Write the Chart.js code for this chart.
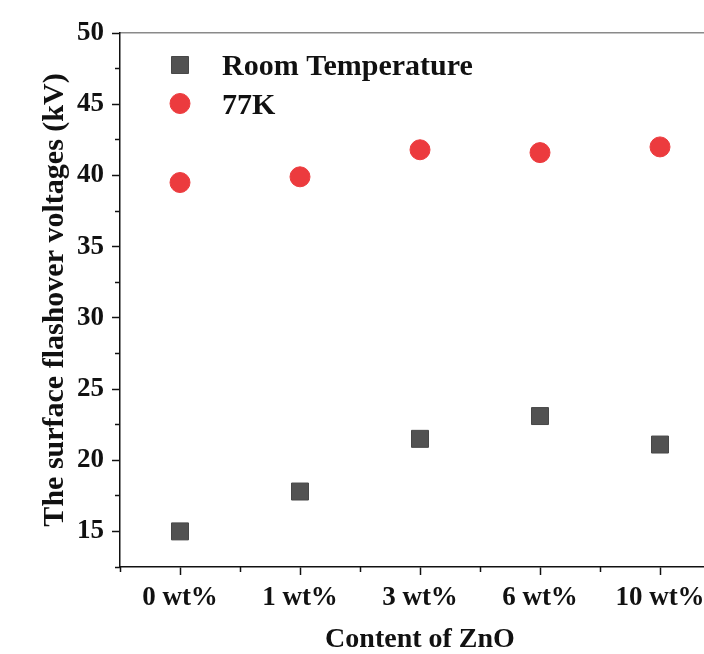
<!DOCTYPE html>
<html>
<head>
<meta charset="utf-8">
<script src="https://cdn.jsdelivr.net/npm/chart.js@4/dist/chart.umd.min.js"></script>
<style>
  html, body { margin: 0; padding: 0; background: #fff; overflow: hidden; }
  #wrap { width: 704px; height: 654px; overflow: hidden; }
</style>
</head>
<body>
<div id="wrap"><canvas id="c" width="760" height="654"></canvas></div>
<script>
"use strict";

const categories = ["0 wt%", "1 wt%", "3 wt%", "6 wt%", "10 wt%"];
const roomTemp = [15.0, 17.8, 21.5, 23.1, 21.1];
const k77 = [39.5, 39.9, 41.8, 41.6, 42.0];
const yMajor = [15, 20, 25, 30, 35, 40, 45, 50];
const yMinor = [12.5, 17.5, 22.5, 27.5, 32.5, 37.5, 42.5, 47.5];

const FONT = "'Liberation Serif', 'Times New Roman', serif";
const INK = "#111";

const pts = (arr) => arr.map((v, i) => ({ x: i, y: v }));
const setTicks = (vals) => (scale) => { scale.ticks = vals.map(v => ({ value: v })); };

// legend drawn inside the plot, top-left
const innerLegend = {
  id: "innerLegend",
  afterDraw(chart) {
    const { ctx, chartArea } = chart;
    ctx.save();
    chart.data.datasets.forEach((ds, i) => {
      const x = chartArea.left + 60, y = chartArea.top + 32 + i * 38.5;
      ctx.fillStyle = ds.backgroundColor;
      ctx.strokeStyle = ds.borderColor;
      ctx.lineWidth = 1;
      Chart.helpers.drawPoint(ctx, { pointStyle: ds.pointStyle, radius: ds.pointRadius, borderWidth: 1 }, x, y);
      ctx.fillStyle = INK;
      ctx.font = "bold 30px " + FONT;
      ctx.textBaseline = "alphabetic";
      ctx.textAlign = "left";
      ctx.fillText(ds.label, chartArea.left + 102, y + 10);
    });
    ctx.restore();
  }
};

const tickFont = { family: FONT, size: 27, weight: "bold" };

new Chart(document.getElementById("c"), {
  type: "scatter",
  data: {
    datasets: [
      { label: "Room Temperature", data: pts(roomTemp), pointStyle: "rect", pointRadius: 12,
        pointHoverRadius: 12, backgroundColor: "#525252", borderColor: "#474747", borderWidth: 1 },
      { label: "77K", data: pts(k77), pointStyle: "circle", pointRadius: 10,
        pointHoverRadius: 10, backgroundColor: "#ec3b3e", borderColor: "#ec3b3e", borderWidth: 1 }
    ]
  },
  options: {
    responsive: false,
    animation: false,
    layout: { padding: { top: 33, right: 40, left: 0, bottom: 0 } },
    plugins: { legend: { display: false }, tooltip: { enabled: false } },
    scales: {
      x: {
        type: "linear", position: "bottom", weight: 1, min: -0.5, max: 4.5,
        afterBuildTicks: setTicks(categories.map((c, i) => i)),
        afterFit: (s) => { s.height = 87; },
        grid: { drawOnChartArea: false, drawTicks: true, tickLength: 8, tickColor: INK, tickWidth: 1.5 },
        border: { color: INK, width: 1.5 },
        ticks: { font: tickFont, color: INK, padding: 7, maxRotation: 0, autoSkip: false,
          callback: (v) => categories[v] },
        title: { display: true, text: "Content of ZnO", color: INK, padding: 0,
          font: { family: FONT, size: 28, weight: "bold", lineHeight: 1 } }
      },
      xMinor: {
        type: "linear", position: "bottom", weight: 0, min: -0.5, max: 4.5,
        afterBuildTicks: setTicks(categories.map((c, i) => i - 0.5).concat([4.5])),
        afterFit: (s) => { s.height = 0; },
        grid: { drawOnChartArea: false, drawTicks: true, tickLength: 5, tickColor: INK, tickWidth: 1.5 },
        border: { display: false },
        ticks: { display: false }
      },
      xTop: {
        type: "linear", position: "top", min: 0, max: 1,
        afterFit: (s) => { s.height = 0; },
        grid: { drawOnChartArea: false, drawTicks: false },
        border: { color: "#8a8a8a", width: 1.5 },
        ticks: { display: false }
      },
      y: {
        type: "linear", position: "left", weight: 1, min: 12.5, max: 50,
        afterBuildTicks: setTicks(yMajor),
        afterFit: (s) => { s.width = 120; },
        grid: { drawOnChartArea: false, drawTicks: true, tickLength: 8, tickColor: INK, tickWidth: 1.5 },
        border: { color: INK, width: 1.5 },
        ticks: { font: tickFont, color: INK, padding: 8 },
        title: { display: true, text: "The surface flashover voltages (kV)", color: INK,
          padding: { top: 37, bottom: 0 },
          font: { family: FONT, size: 30, weight: "bold", lineHeight: 1.2 } }
      },
      yMinor: {
        type: "linear", position: "left", weight: 0, min: 12.5, max: 50,
        afterBuildTicks: setTicks(yMinor),
        afterFit: (s) => { s.width = 0; },
        grid: { drawOnChartArea: false, drawTicks: true, tickLength: 5, tickColor: INK, tickWidth: 1.5 },
        border: { display: false },
        ticks: { display: false }
      }
    }
  },
  plugins: [innerLegend]
});
</script>
</body>
</html>
